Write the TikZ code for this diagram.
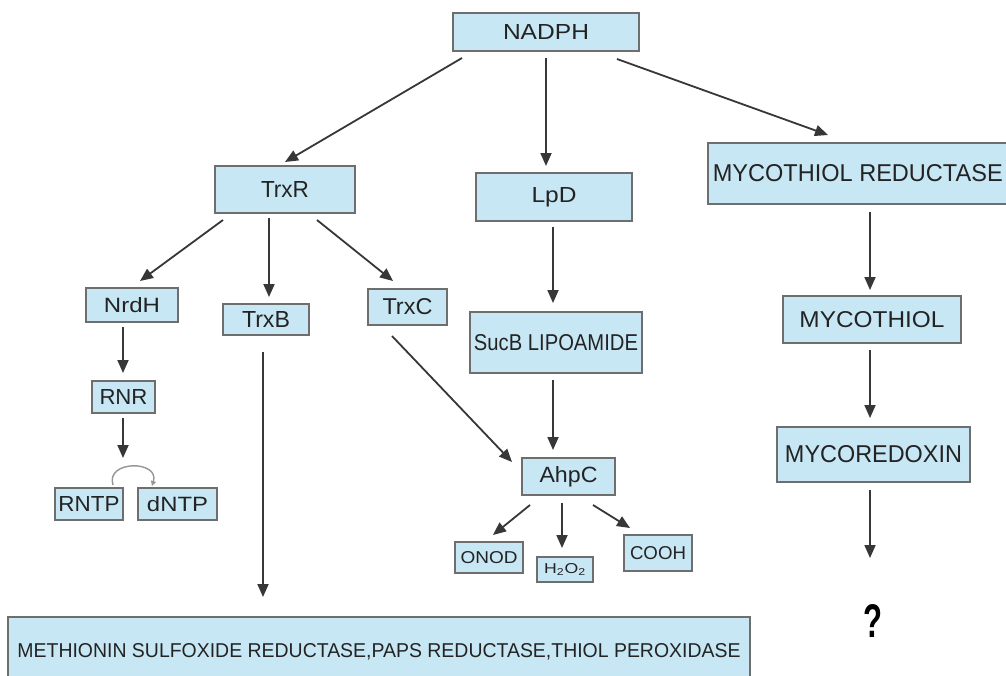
\documentclass[tikz,border=0pt]{standalone}
\usepackage{graphicx}
\usepackage{fontspec}
\setmainfont{Liberation Sans}
\usetikzlibrary{arrows.meta}
\definecolor{boxblue}{RGB}{200,231,245}
\definecolor{boxline}{RGB}{110,110,110}
\definecolor{txtcol}{RGB}{35,35,35}
\definecolor{arrcol}{RGB}{55,55,55}
\definecolor{loopcol}{RGB}{150,150,150}
\newcommand\boxtxt[3]{\resizebox{#1pt}{#2pt}{#3}}
\tikzset{
  pbox/.style={draw=boxline, fill=boxblue, line width=1.5pt, inner sep=0pt, text=txtcol},
  arr/.style={draw=arrcol, line width=1.8pt, -{Triangle[length=13pt,width=11pt]}},
  looparr/.style={draw=loopcol, line width=1.4pt, -{Triangle[length=5pt,width=5pt]}}
}
\begin{document}
\begin{tikzpicture}[x=1pt,y=1pt]
\useasboundingbox (0,0) rectangle (1006,-675);
\clip (0,0) rectangle (1006,-675);
\fill[white] (0,0) rectangle (1006,-675);
% nodes
\node[pbox, minimum width=186pt, minimum height=38pt] (nadph) at (546,-32) {\boxtxt{86}{15}{NADPH}};
\node[pbox, minimum width=140pt, minimum height=47pt] (trxr) at (285,-189.5) {\boxtxt{48}{16}{TrxR}};
\node[pbox, minimum width=156pt, minimum height=48pt] (lpd) at (554,-197) {\boxtxt{45}{15}{LpD}};
\node[pbox, anchor=west, minimum height=61pt, inner xsep=5pt] (mr) at (707,-173.5) {\boxtxt{290}{17}{MYCOTHIOL REDUCTASE}};
\node[pbox, minimum width=92pt, minimum height=34pt] (nrdh) at (132,-305) {\boxtxt{56}{15}{NrdH}};
\node[pbox, minimum width=86pt, minimum height=31pt] (trxb) at (266,-319.5) {\boxtxt{48}{16}{TrxB}};
\node[pbox, minimum width=79pt, minimum height=36pt] (trxc) at (407.5,-307) {\boxtxt{50}{16}{TrxC}};
\node[pbox, minimum width=172pt, minimum height=61pt] (sucb) at (556,-342.5) {\boxtxt{164}{16}{SucB LIPOAMIDE}};
\node[pbox, minimum width=178pt, minimum height=47pt] (myco) at (872,-319.5) {\boxtxt{145}{16}{MYCOTHIOL}};
\node[pbox, minimum width=63pt, minimum height=32pt] (rnr) at (123.5,-397) {\boxtxt{48}{15}{RNR}};
\node[pbox, minimum width=193pt, minimum height=55pt] (mcrx) at (873.5,-454.5) {\boxtxt{177}{17}{MYCOREDOXIN}};
\node[pbox, minimum width=93pt, minimum height=37pt] (ahpc) at (568.5,-476.5) {\boxtxt{58}{16}{AhpC}};
\node[pbox, minimum width=68pt, minimum height=32pt] (rntp) at (89,-504) {\boxtxt{61}{15}{RNTP}};
\node[pbox, minimum width=79pt, minimum height=32pt] (dntp) at (177.5,-504) {\boxtxt{61}{15}{dNTP}};
\node[pbox, minimum width=68pt, minimum height=31pt] (onod) at (489,-557.5) {\boxtxt{57}{12}{ONOD}};
\node[pbox, minimum width=56pt, minimum height=25pt] (h2o2) at (565,-569.5) {\boxtxt{42}{10}{H\textsubscript{2}O\textsubscript{2}}};
\node[pbox, minimum width=68pt, minimum height=36pt] (cooh) at (658,-553) {\boxtxt{56}{13}{COOH}};
\node[pbox, minimum width=742pt, minimum height=70pt] (bottom) at (379,-652) {\boxtxt{723}{14}{METHIONIN SULFOXIDE REDUCTASE,PAPS REDUCTASE,THIOL PEROXIDASE}};
\node[text=black, inner sep=0pt] (q) at (873,-621) {\boxtxt{19}{33}{\bfseries ?}};
\coordinate (rnrend) at (123,-458);
% arrows
\draw[arr] ([shift={(-84,-26)}]nadph.center) -- ([shift={(0,27.5)}]trxr.center);
\draw[arr] ([shift={(0,-26)}]nadph.center) -- ([shift={(-8,31)}]lpd.center);
\draw[arr] ([shift={(71,-27)}]nadph.center) -- ([shift={(121,38.5)}]mr.west);
\draw[arr] ([shift={(-62,-30.5)}]trxr.center) -- ([shift={(8,24)}]nrdh.center);
\draw[arr] ([shift={(-16,-28.5)}]trxr.center) -- ([shift={(3,22.5)}]trxb.center);
\draw[arr] ([shift={(32,-30.5)}]trxr.center) -- ([shift={(-14.5,26)}]trxc.center);
\draw[arr] ([shift={(-1,-30)}]lpd.center) -- ([shift={(-3,39.5)}]sucb.center);
\draw[arr] ([shift={(-3,-37.5)}]sucb.center) -- ([shift={(-15.5,26.5)}]ahpc.center);
\draw[arr] ([shift={(-15.5,-29)}]trxc.center) -- ([shift={(-56.5,14.5)}]ahpc.center);
\draw[arr] ([shift={(-3,-32.5)}]trxb.center) -- ([shift={(-116,55)}]bottom.center);
\draw[arr] ([shift={(-9,-22)}]nrdh.center) -- ([shift={(-0.5,24)}]rnr.center);
\draw[arr] ([shift={(-0.5,-21)}]rnr.center) -- (rnrend);
\draw[looparr] ([shift={(24,19)}]rntp.center) .. controls ([shift={(16,44)}]rntp.center) and ([shift={(-17.5,44)}]dntp.center) .. ([shift={(-25.5,18)}]dntp.center);
\draw[arr] ([shift={(-38.5,-28.5)}]ahpc.center) -- ([shift={(4,22.5)}]onod.center);
\draw[arr] ([shift={(-6.5,-26.5)}]ahpc.center) -- ([shift={(-3,21.5)}]h2o2.center);
\draw[arr] ([shift={(24.5,-28.5)}]ahpc.center) -- ([shift={(-28,25)}]cooh.center);
\draw[arr] ([shift={(163,-38.5)}]mr.west) -- ([shift={(-2,29.5)}]myco.center);
\draw[arr] ([shift={(-2,-30.5)}]myco.center) -- ([shift={(-3.5,36.5)}]mcrx.center);
\draw[arr] ([shift={(-3.5,-35.5)}]mcrx.center) -- ([shift={(-3,63)}]q.center);
\end{tikzpicture}
\end{document}
